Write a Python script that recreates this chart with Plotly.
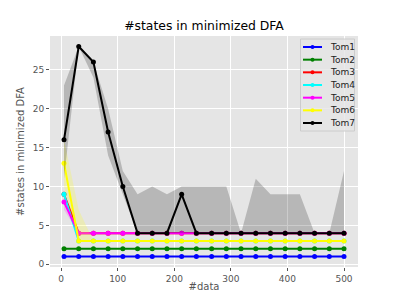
import plotly.graph_objects as go

# ---- data ----
n_data = [5, 31, 57, 83, 109, 135, 161, 187, 213, 239, 266, 292, 318, 344, 370, 396, 422, 448, 474, 500]

tom1 = [1, 1, 1, 1, 1, 1, 1, 1, 1, 1, 1, 1, 1, 1, 1, 1, 1, 1, 1, 1]
tom2 = [2, 2, 2, 2, 2, 2, 2, 2, 2, 2, 2, 2, 2, 2, 2, 2, 2, 2, 2, 2]
tom3 = [9, 4, 4, 4, 4, 4, 4, 4, 4, 4, 4, 4, 4, 4, 4, 4, 4, 4, 4, 4]
tom4 = [9, 3, 3, 3, 3, 3, 3, 3, 3, 3, 3, 3, 3, 3, 3, 3, 3, 3, 3, 3]
tom5 = [8, 4, 4, 4, 4, 4, 4, 4, 4, 4, 4, 4, 4, 4, 4, 4, 4, 4, 4, 4]
tom6 = [13, 3, 3, 3, 3, 3, 3, 3, 3, 3, 3, 3, 3, 3, 3, 3, 3, 3, 3, 3]
tom7 = [16, 28, 26, 17, 10, 4, 4, 4, 9, 4, 4, 4, 4, 4, 4, 4, 4, 4, 4, 4]

# min / max bands
tom4_lo = [8.5, 3, 3, 3, 3, 3, 3, 3, 3, 3, 3, 3, 3, 3, 3, 3, 3, 3, 3, 3]
tom4_hi = [9.5, 3, 3, 3, 3, 3, 3, 3, 3, 3, 3, 3, 3, 3, 3, 3, 3, 3, 3, 3]
tom5_lo = [7, 4, 4, 4, 4, 4, 4, 4, 4, 4, 4, 4, 4, 4, 4, 4, 4, 4, 4, 4]
tom5_hi = [8.5, 4, 4, 4, 4, 4, 4, 4, 4, 4, 4, 4, 4, 4, 4, 4, 4, 4, 4, 4]
tom6_lo = [10, 3, 3, 3, 3, 3, 3, 3, 3, 3, 3, 3, 3, 3, 3, 3, 3, 3, 3, 3]
tom6_hi = [16, 7, 3, 3, 3, 3, 3, 3, 3, 3, 3, 3, 3, 3, 3, 3, 3, 3, 3, 3]
tom7_lo = [11, 28, 24, 14, 9, 4, 4, 4, 4, 4, 4, 4, 4, 4, 4, 4, 4, 4, 4, 4]
tom7_hi = [23, 28, 26, 20, 12, 9, 10, 9, 10, 10, 10, 10, 4, 11, 9, 9, 9, 4, 4, 12]

x_ticks = [0, 100, 200, 300, 400, 500]
y_ticks = [0, 5, 10, 15, 20, 25]

series = [
    ("Tom1", tom1, None, None, "#0000FF", "rgba(0,0,255,0.2)"),
    ("Tom2", tom2, None, None, "#008000", "rgba(0,128,0,0.2)"),
    ("Tom3", tom3, None, None, "#FF0000", "rgba(255,0,0,0.2)"),
    ("Tom4", tom4, tom4_lo, tom4_hi, "#00FFFF", "rgba(0,255,255,0.2)"),
    ("Tom5", tom5, tom5_lo, tom5_hi, "#FF00FF", "rgba(255,0,255,0.2)"),
    ("Tom6", tom6, tom6_lo, tom6_hi, "#FFFF00", "rgba(255,255,0,0.2)"),
    ("Tom7", tom7, tom7_lo, tom7_hi, "#000000", "rgba(0,0,0,0.2)"),
]

# page body has an 8px margin; the figure is sized so the plot lands where the reference has it
OFF = 8
W, H = 391, 291
ML, MR, MT, MB = 42, 41, 28, 32
# plot area in window pixels (reference coordinates)
PX0, PX1, PY0, PY1 = ML + OFF, W - MR + OFF, MT + OFF, H - MB + OFF


def px_x(p):
    return (p - PX0) / (PX1 - PX0)


def px_y(p):
    return (PY1 - p) / (PY1 - PY0)


fig = go.Figure()
for name, vals, lo, hi, col, fcol in series:
    if lo is not None:
        fig.add_trace(go.Scatter(x=n_data, y=lo, mode="lines", line=dict(width=0),
                                 showlegend=False, hoverinfo="skip"))
        fig.add_trace(go.Scatter(x=n_data, y=hi, mode="lines", line=dict(width=0),
                                 fill="tonexty", fillcolor=fcol,
                                 showlegend=False, hoverinfo="skip"))
    fig.add_trace(go.Scatter(x=n_data, y=vals, mode="lines+markers", name=name,
                             line=dict(color=col, width=2),
                             marker=dict(color=col, size=5), showlegend=False))

# ---- legend box (drawn like matplotlib's) ----
shapes = [dict(type="rect", xref="paper", yref="paper",
               x0=px_x(300.5), x1=px_x(354.5), y0=px_y(131), y1=px_y(39),
               fillcolor="rgba(229,229,229,0.8)", line=dict(color="#CCCCCC", width=1),
               layer="above")]
annotations = []
for i, (name, vals, lo, hi, col, fcol) in enumerate(series):
    yy = px_y(47 + i * 12.67)
    shapes.append(dict(type="line", xref="paper", yref="paper",
                       x0=px_x(303), x1=px_x(322), y0=yy, y1=yy,
                       line=dict(color=col, width=2), layer="above"))
    shapes.append(dict(type="circle", xref="paper", yref="paper",
                       xsizemode="pixel", ysizemode="pixel",
                       xanchor=px_x(312.5), yanchor=yy,
                       x0=-2, x1=2, y0=-2, y1=2,
                       fillcolor=col, line=dict(color=col, width=0), layer="above"))
    annotations.append(dict(text=name, xref="paper", yref="paper",
                            x=px_x(328), y=yy, xanchor="left", yanchor="middle",
                            showarrow=False, font=dict(size=9, color="#222222")))

axis_common = dict(
    showgrid=True, gridcolor="white", gridwidth=1,
    zeroline=False, showline=False, automargin=False,
    ticks="outside", ticklen=3, tickwidth=1, tickcolor="#555555",
    tickfont=dict(size=9, color="#555555"),
)

fig.update_layout(
    width=W, height=H,
    margin=dict(l=ML, r=MR, t=MT, b=MB, autoexpand=False),
    paper_bgcolor="white", plot_bgcolor="#E5E5E5",
    font=dict(family="DejaVu Sans", color="#555555"),
    title=dict(text="#states in minimized DFA", font=dict(size=12.4, color="black"),
               x=0.5, xref="paper", xanchor="center",
               y=1 - (26 - OFF) / H, yref="container", yanchor="middle"),
    xaxis=dict(range=[-19.75, 524.75], tickvals=x_ticks,
               title=dict(text="#data", font=dict(size=10, color="#555555"), standoff=0),
               **axis_common),
    yaxis=dict(range=[-0.35, 29.35], tickvals=y_ticks,
               title=dict(text="#states in minimized DFA", font=dict(size=10, color="#555555"), standoff=6),
               **axis_common),
    shapes=shapes,
    annotations=annotations,
    showlegend=False,
)

fig.write_html("out.html")
